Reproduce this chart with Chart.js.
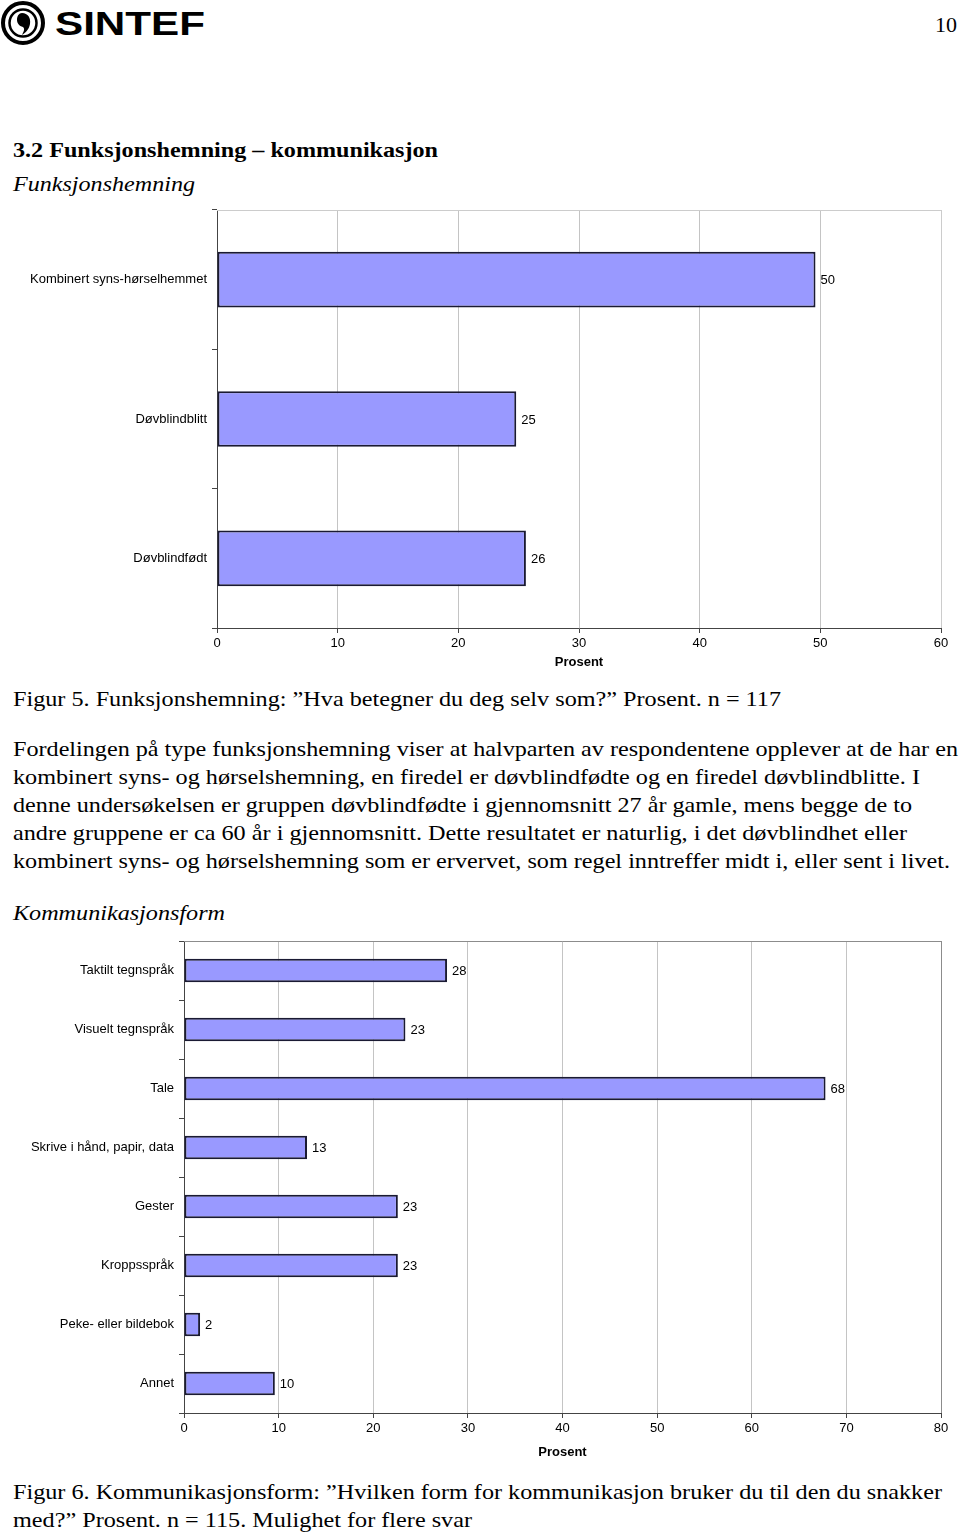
<!DOCTYPE html>
<html lang="no">
<head>
<meta charset="utf-8">
<title>Funksjonshemning – kommunikasjon</title>
<script src="https://cdn.jsdelivr.net/npm/chart.js@4.4.1/dist/chart.umd.min.js"></script>
<style>
    html, body { margin: 0; padding: 0; background: #fff; }
    body {
        width: 960px; height: 1533px; position: relative; overflow: hidden;
        font-family: 'Liberation Serif', 'Times New Roman', serif; color: #000;
    }
    .t { position: absolute; white-space: nowrap; line-height: 1; transform-origin: 0 50%; }
    .p { font-size: 21px; }
    canvas { position: absolute; left: 0; }
</style>
</head>
<body>

<svg style="position:absolute;left:0;top:0" width="48" height="48" viewBox="0 0 48 48">
    <circle cx="23" cy="23" r="20" fill="none" stroke="#000" stroke-width="4"/>
    <circle cx="23" cy="23" r="13.5" fill="none" stroke="#000" stroke-width="2.5"/>
    <path d="M22 13 C28 13 31 18 30 24 C29 30 25 33 22 35 C24 31 25 29 23 27 C19 26 17 23 17 20 C17 16 19 13 22 13 Z" fill="#000"/>
</svg>
<div class="t" data-w="150" style="left:55px;top:7px;font:bold 33px 'Liberation Sans',Arial,sans-serif;line-height:1;">SINTEF</div>
<div class="t" style="left:935px;top:14px;font-size:22px;">10</div>

<div class="t" data-w="425" style="left:13px;top:139px;font-size:22px;font-weight:bold;">3.2 Funksjonshemning – kommunikasjon</div>
<div class="t" data-w="182" style="left:13px;top:173px;font-size:22px;font-style:italic;">Funksjonshemning</div>

<canvas id="fig5Chart" width="960" height="470" style="top:200px;"></canvas>

<div class="t p" data-w="768" style="left:13px;top:689px;">Figur 5. Funksjonshemning: ”Hva betegner du deg selv som?” Prosent. n = 117</div>

<div class="t p" data-w="945" style="left:13px;top:739px;">Fordelingen på type funksjonshemning viser at halvparten av respondentene opplever at de har en</div>
<div class="t p" data-w="907" style="left:13px;top:767px;">kombinert syns- og hørselshemning, en firedel er døvblindfødte og en firedel døvblindblitte. I</div>
<div class="t p" data-w="899" style="left:13px;top:795px;">denne undersøkelsen er gruppen døvblindfødte i gjennomsnitt 27 år gamle, mens begge de to</div>
<div class="t p" data-w="894" style="left:13px;top:823px;">andre gruppene er ca 60 år i gjennomsnitt. Dette resultatet er naturlig, i det døvblindhet eller</div>
<div class="t p" data-w="937" style="left:13px;top:851px;">kombinert syns- og hørselshemning som er ervervet, som regel inntreffer midt i, eller sent i livet.</div>

<div class="t" data-w="212" style="left:13px;top:902px;font-size:22px;font-style:italic;">Kommunikasjonsform</div>

<canvas id="fig6Chart" width="960" height="530" style="top:930px;"></canvas>

<div class="t p" data-w="929" style="left:13px;top:1481px;font-size:22px;">Figur 6. Kommunikasjonsform: ”Hvilken form for kommunikasjon bruker du til den du snakker</div>
<div class="t p" data-w="459" style="left:13px;top:1509px;font-size:22px;">med?” Prosent. n = 115. Mulighet for flere svar</div>

<script>
// Figur 5 - funksjonshemning (prosent, n = 117)
const fig5Categories = ['Kombinert syns-hørselhemmet', 'Døvblindblitt', 'Døvblindfødt'];
const fig5Values = [49.6, 24.8, 25.6];
const fig5Max = 60;

// Figur 6 - kommunikasjonsform (prosent, n = 115)
const fig6Categories = ['Taktilt tegnspråk', 'Visuelt tegnspråk', 'Tale', 'Skrive i hånd, papir, data',
    'Gester', 'Kroppsspråk', 'Peke- eller bildebok', 'Annet'];
const fig6Values = [27.8, 23.4, 67.8, 13.0, 22.6, 22.6, 1.7, 9.6];
const fig6Max = 80;

const tickStep = 10;
const axisTitle = 'Prosent';

// tilpass tekstlinjer til bredden i originalen
document.querySelectorAll('.t[data-w]').forEach(function(el) {
    const w = el.getBoundingClientRect().width;
    el.style.transform = 'scaleX(' + (parseFloat(el.dataset.w) / w) + ')';
});

Chart.defaults.font.family = "'Liberation Sans', Arial, sans-serif";
Chart.defaults.font.size = 13;
Chart.defaults.color = '#000';

// tall etter hver stolpe
const valueLabels = {
    id: 'valueLabels',
    afterDatasetsDraw(chart) {
        const ctx = chart.ctx;
        const values = chart.data.datasets[0].data;
        ctx.save();
        ctx.font = "13px 'Liberation Sans', Arial, sans-serif";
        ctx.fillStyle = '#000';
        ctx.textBaseline = 'middle';
        chart.getDatasetMeta(0).data.forEach(function(bar, i) {
            ctx.fillText(String(Math.round(values[i])), bar.x + 5, bar.y + 1);
        });
        ctx.restore();
    }
};

// øvre kant av plottområdet
const plotFrame = {
    id: 'plotFrame',
    beforeDatasetsDraw(chart, args, opts) {
        const a = chart.chartArea;
        const ctx = chart.ctx;
        ctx.save();
        ctx.strokeStyle = opts.color;
        ctx.lineWidth = 1;
        ctx.beginPath();
        ctx.moveTo(a.left, Math.round(a.top) + 0.5);
        ctx.lineTo(a.right, Math.round(a.top) + 0.5);
        ctx.stroke();
        ctx.restore();
    }
};

function makeConfig(labels, values, max, yWidth, xHeight, padTop, frameColor) {
    return {
        type: 'bar',
        data: {
            labels: labels,
            datasets: [{
                data: values,
                backgroundColor: '#9999ff',
                borderColor: '#1a1a33',
                borderWidth: 2,
                borderSkipped: false,
                categoryPercentage: 0.4,
                barPercentage: 1.0
            }]
        },
        options: {
            indexAxis: 'y',
            responsive: false,
            animation: false,
            layout: { padding: { top: padTop, right: 19, left: 0, bottom: 0 } },
            plugins: {
                legend: { display: false },
                tooltip: { enabled: false },
                plotFrame: { color: frameColor }
            },
            scales: {
                x: {
                    min: 0,
                    max: max,
                    ticks: { stepSize: tickStep, padding: 3, font: { size: 13 } },
                    grid: {
                        color: function(c) { return c.tick && c.tick.value === max ? frameColor : '#c4c4c4'; },
                        tickColor: '#444',
                        tickLength: 5
                    },
                    border: { color: '#444', width: 1 },
                    title: { display: true, text: axisTitle, font: { size: 13, weight: 'bold' }, padding: { top: 3, bottom: 0 } },
                    afterFit: function(scale) { scale.height = xHeight; }
                },
                y: {
                    ticks: { padding: 5, font: { size: 13 } },
                    grid: { drawOnChartArea: false, tickColor: '#444', tickLength: 5 },
                    border: { color: '#444', width: 1 },
                    afterFit: function(scale) {
                        scale.width = yWidth;
                        scale.paddingTop = 0;
                        scale.paddingBottom = 0;
                    }
                }
            }
        },
        plugins: [valueLabels, plotFrame]
    };
}

if (document.getElementById('fig5Chart')) {
    new Chart(document.getElementById('fig5Chart').getContext('2d'),
        makeConfig(fig5Categories, fig5Values, fig5Max, 217, 42, 10, '#cccccc'));
}
if (document.getElementById('fig6Chart')) {
    new Chart(document.getElementById('fig6Chart').getContext('2d'),
        makeConfig(fig6Categories, fig6Values, fig6Max, 184, 47, 11, '#8c8c8c'));
}
</script>
</body>
</html>
